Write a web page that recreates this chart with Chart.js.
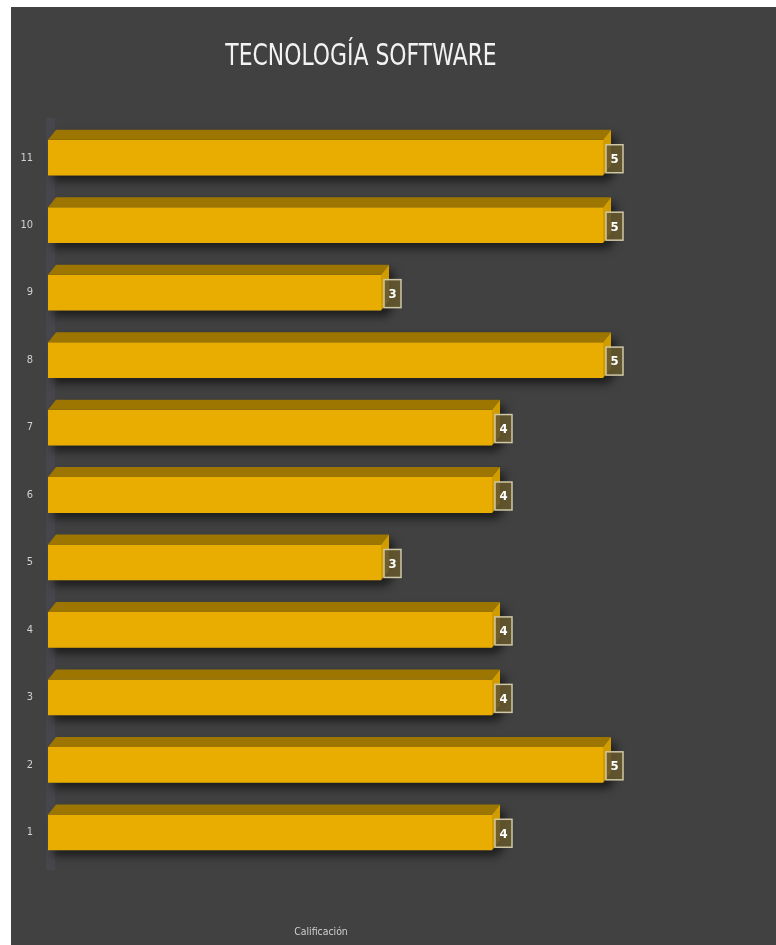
<!DOCTYPE html>
<html>
<head>
<meta charset="utf-8">
<script src="https://cdn.jsdelivr.net/npm/chart.js@4.4.1/dist/chart.umd.min.js"></script>
<style>
  html, body { margin: 0; padding: 0; background: #ffffff; }
  #wrap { width: 776px; height: 945px; position: relative; }
</style>
</head>
<body>
<div id="wrap"><canvas id="barChart" width="776" height="945"></canvas></div>
<script>
const categories = ["1", "2", "3", "4", "5", "6", "7", "8", "9", "10", "11"];
const scores = [4, 5, 4, 4, 3, 4, 4, 5, 3, 5, 5];
const seriesName = "Calificación";
const chartTitle = "TECNOLOGÍA SOFTWARE";

const FONT = "'Liberation Sans Narrow', 'DejaVu Sans Condensed', 'DejaVu Sans', sans-serif";
const FRONT = "#e8ad00";
const TOP = "#9c7600";
const SIDE = "#d09c00";
const DX = 8, DY = -10;

// dark panel, wall edge and text
const panel = {
  id: "panel",
  beforeDraw(chart) {
    const ctx = chart.ctx;
    const a = chart.chartArea;
    ctx.save();
    ctx.fillStyle = "#414141";
    ctx.fillRect(11, 7, chart.width - 11, chart.height - 7);
    ctx.fillStyle = "#46464c";
    ctx.fillRect(a.left - 2, a.top - 6, 9, a.bottom - a.top + 10);
    ctx.restore();

    // narrow title
    ctx.save();
    ctx.translate(361, 57);
    ctx.scale(0.73, 1);
    ctx.fillStyle = "#f2f2f2";
    ctx.font = "30px 'DejaVu Sans', sans-serif";
    ctx.textAlign = "center";
    ctx.textBaseline = "middle";
    ctx.fillText(chartTitle, 0, 0);
    ctx.restore();

    ctx.save();
    ctx.translate(321, 932);
    ctx.scale(0.85, 1);
    ctx.fillStyle = "#d0d0d0";
    ctx.font = "11px 'DejaVu Sans', sans-serif";
    ctx.textAlign = "center";
    ctx.textBaseline = "middle";
    ctx.fillText(seriesName, 0, 0);
    ctx.restore();
  }
};

function barBox(el) {
  const p = el.getProps(["x", "y", "base", "height"], true);
  return { l: p.base, r: p.x, t: p.y - p.height / 2, b: p.y + p.height / 2, y: p.y };
}

// extruded faces, shadow and value boxes
const bars3d = {
  id: "bars3d",
  beforeDatasetsDraw(chart) {
    const ctx = chart.ctx;
    ctx.save();
    ctx.shadowColor = "rgba(0,0,0,0.55)";
    ctx.shadowBlur = 8;
    ctx.shadowOffsetX = 5;
    ctx.shadowOffsetY = 6;
    ctx.fillStyle = "#3a3a3a";
    chart.getDatasetMeta(0).data.forEach(el => {
      const b = barBox(el);
      ctx.beginPath();
      ctx.moveTo(b.l, b.b);
      ctx.lineTo(b.l, b.t);
      ctx.lineTo(b.l + DX, b.t + DY);
      ctx.lineTo(b.r + DX, b.t + DY);
      ctx.lineTo(b.r + DX, b.b + DY);
      ctx.lineTo(b.r, b.b);
      ctx.closePath();
      ctx.fill();
    });
    ctx.restore();
  },
  afterDatasetsDraw(chart) {
    const ctx = chart.ctx;
    const meta = chart.getDatasetMeta(0);
    ctx.save();
    meta.data.forEach((el, i) => {
      const b = barBox(el);
      ctx.fillStyle = TOP;
      ctx.beginPath();
      ctx.moveTo(b.l, b.t);
      ctx.lineTo(b.r, b.t);
      ctx.lineTo(b.r + DX, b.t + DY);
      ctx.lineTo(b.l + DX, b.t + DY);
      ctx.closePath();
      ctx.fill();
      ctx.fillStyle = SIDE;
      ctx.beginPath();
      ctx.moveTo(b.r, b.t);
      ctx.lineTo(b.r + DX, b.t + DY);
      ctx.lineTo(b.r + DX, b.b + DY);
      ctx.lineTo(b.r, b.b);
      ctx.closePath();
      ctx.fill();

      // value box
      const bx = b.r + 3, bw = 17, bh = 28, by = b.y - 13;
      ctx.fillStyle = "rgba(100,88,45,0.9)";
      ctx.fillRect(bx, by, bw, bh);
      ctx.strokeStyle = "#cfc7a6";
      ctx.lineWidth = 1.5;
      ctx.strokeRect(bx, by, bw, bh);
      ctx.fillStyle = "#ffffff";
      ctx.font = "bold 13px " + FONT;
      ctx.textAlign = "center";
      ctx.textBaseline = "middle";
      ctx.fillText(String(scores[i]), bx + bw / 2, by + bh / 2 + 1);
    });
    ctx.restore();
  }
};

new Chart(document.getElementById("barChart").getContext("2d"), {
  type: "bar",
  data: {
    labels: categories,
    datasets: [
      {
        label: seriesName,
        data: scores,
        backgroundColor: FRONT,
        borderWidth: 0,
        categoryPercentage: 1,
        barPercentage: 0.53
      }
    ]
  },
  options: {
    indexAxis: "y",
    responsive: false,
    animation: false,
    layout: { padding: { top: 124, bottom: 79, right: 62, left: 0 } },
    plugins: {
      legend: { display: false },
      title: { display: false },
      tooltip: { enabled: false }
    },
    scales: {
      x: {
        display: false,
        min: 0,
        max: 6
      },
      y: {
        reverse: true,
        grid: { display: false },
        border: { display: false },
        afterFit(scale) { scale.width = 48; },
        ticks: {
          color: "#d0d0d0",
          font: { family: FONT, size: 11 },
          padding: 7
        }
      }
    }
  },
  plugins: [panel, bars3d]
});
</script>
</body>
</html>
